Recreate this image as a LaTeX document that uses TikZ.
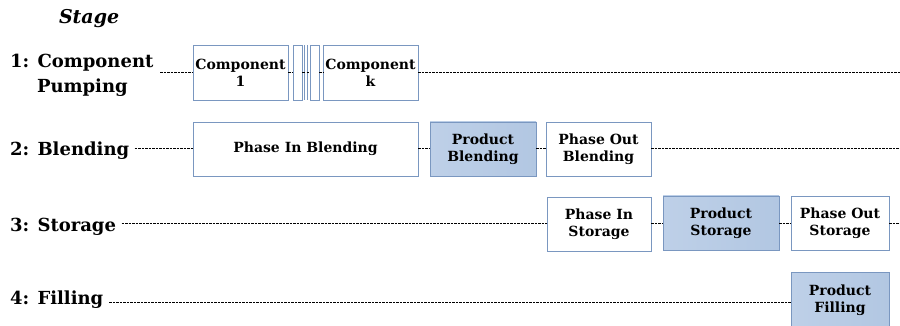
\documentclass[tikz,border=0pt]{standalone}
\usepackage{fontspec}
\setmainfont{DejaVu Serif}
\begin{document}
\begin{tikzpicture}[x=1pt,y=-1pt,
  every node/.style={inner sep=0pt, outer sep=0pt},
  stagelabel/.style={anchor=west, font=\bfseries\fontsize{18}{25.5}\selectfont, align=left},
  task/.style={draw=boxline, line width=0.8pt, fill=white, font=\bfseries\fontsize{14}{17}\selectfont, align=center, anchor=north west},
  active/.style={task, left color=prodlight, right color=proddark},
  guide/.style={dash pattern=on 2.5pt off 1pt, line width=0.7pt, black}
]
\definecolor{boxline}{HTML}{7A97C0}
\definecolor{prodlight}{HTML}{BED0E8}
\definecolor{proddark}{HTML}{B2C7E2}
\useasboundingbox (0,0) rectangle (900,326);

% heading
\node[anchor=west, font=\bfseries\itshape\fontsize{19}{21}\selectfont] (head) at (59,19) {Stage};

% stage labels
\node[stagelabel] (s1) at (10,75.5) {1: Component\\\hspace{27pt}Pumping};
\node[stagelabel] (s2) at (10,151) {2: Blending};
\node[stagelabel] (s3) at (10,227) {3: Storage};
\node[stagelabel] (s4) at (10,300) {4: Filling};

% stage 1 tasks
\node[task, minimum width=95pt, minimum height=55pt] (c1) at (193,45) {Component\\1};
\node[task, minimum width=9pt, minimum height=55pt] (g1) at (293,45) {};
\node[task, minimum width=9pt, minimum height=55pt] (g2) at (310,45) {};
\node[task, minimum width=95pt, minimum height=55pt] (ck) at (323,45) {Component\\k};
\coordinate (sep1) at (304.5,72.5);
\coordinate (sep2) at (306.5,72.5);
\draw[boxline, line width=0.6pt] (304.5,45) -- (304.5,100) (306.8,45) -- (306.8,100);

% stage 2 tasks
\node[task, minimum width=225pt, minimum height=54pt] (pib) at (193,122) {Phase In Blending};
\node[active, minimum width=106pt, minimum height=54pt] (pb) at (430,122) {Product\\Blending};
\node[task, minimum width=105pt, minimum height=54pt] (pob) at (546,122) {Phase Out\\Blending};

% stage 3 tasks
\node[task, minimum width=104pt, minimum height=54pt] (pis) at (547,197) {Phase In\\Storage};
\node[active, minimum width=116pt, minimum height=54pt] (ps) at (663,196) {Product\\Storage};
\node[task, minimum width=98pt, minimum height=54pt] (pos) at (791,196) {Phase Out\\Storage};

% stage 4 task
\node[active, minimum width=98pt, minimum height=56pt] (pf) at (791,272) {Product\\Filling};

% right-hand ends of the guide lines
\coordinate (e1) at (900,72.5);
\coordinate (e2) at (900,148);
\coordinate (e3) at (900,223);

% guide lines
\draw[guide] (160,72.5) -- (c1.west |- 0,72.5);
\draw[guide] (c1.east |- 0,72.5) -- (g1.west |- 0,72.5);
\draw[guide] (g1.east |- 0,72.5) -- (sep1);
\draw[guide] (sep2) -- (g2.west |- 0,72.5);
\draw[guide] (g2.east |- 0,72.5) -- (ck.west |- 0,72.5);
\draw[guide] (ck.east |- 0,72.5) -- (e1);

\draw[guide] (s2.east |- 0,148) ++(5.5,0) -- (pib.west |- 0,148);
\draw[guide] (pib.east |- 0,148) -- (pb.west |- 0,148);
\draw[guide] (pb.east |- 0,148) -- (pob.west |- 0,148);
\draw[guide] (pob.east |- 0,148) -- (e2);

\draw[guide] (s3.east |- 0,223) ++(5.5,0) -- (pis.west |- 0,223);
\draw[guide] (pis.east |- 0,223) -- (ps.west |- 0,223);
\draw[guide] (ps.east |- 0,223) -- (pos.west |- 0,223);
\draw[guide] (pos.east |- 0,223) -- (e3);

\draw[guide] (s4.east |- 0,302) ++(6,0) -- (pf.west |- 0,302);
\end{tikzpicture}
\end{document}
